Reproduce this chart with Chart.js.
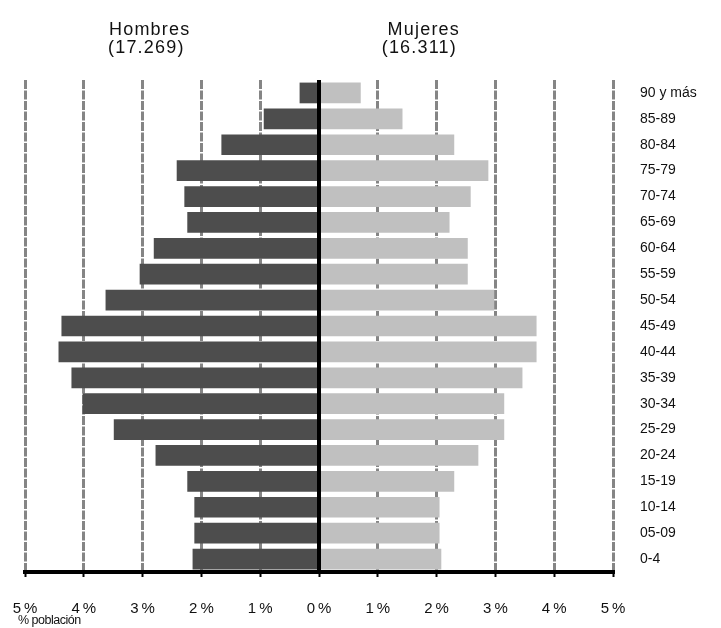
<!DOCTYPE html>
<html>
<head>
<meta charset="utf-8">
<script src="https://cdn.jsdelivr.net/npm/chart.js@4/dist/chart.umd.min.js"></script>
<style>
  html, body { margin: 0; padding: 0; background: #fff; }
  #wrap { width: 721px; height: 628px; }
</style>
</head>
<body>
<div id="wrap"><canvas id="chart" width="721" height="628"></canvas></div>
<script>
// grupos de edad, de arriba a abajo
const grupos = ['90 y más','85-89','80-84','75-79','70-74','65-69','60-64','55-59','50-54','45-49',
                '40-44','35-39','30-34','25-29','20-24','15-19','10-14','05-09','0-4'];
// % de población
const hombres = [0.33,0.94,1.66,2.42,2.29,2.24,2.81,3.05,3.63,4.38,4.43,4.21,4.02,3.49,2.78,2.24,2.12,2.12,2.15];
const mujeres = [0.71,1.42,2.30,2.88,2.58,2.22,2.53,2.53,2.98,3.70,3.70,3.46,3.15,3.15,2.71,2.30,2.05,2.05,2.08];
const ticksX = [-5,-4,-3,-2,-1,0,1,2,3,4,5];
const cabeceras = [['Hombres','(17.269)'],['Mujeres','(16.311)']];

const FONT = '"Liberation Sans", Arial, sans-serif';

// linea central y textos
const extras = {
  id: 'extras',
  afterDatasetsDraw(chart){
    const ctx = chart.ctx;
    const x = chart.scales.x;
    const area = chart.chartArea;
    const x0 = x.getPixelForValue(0);
    ctx.save();
    ctx.strokeStyle = '#000';
    ctx.lineWidth = 4;
    ctx.beginPath();
    ctx.moveTo(x0, area.top);
    ctx.lineTo(x0, area.bottom);
    ctx.stroke();
    ctx.restore();
  },
  afterDraw(chart){
    const ctx = chart.ctx;
    ctx.save();
    ctx.fillStyle = '#111';
    ctx.font = '18px ' + FONT;
    ctx.letterSpacing = '1.2px';
    ctx.textAlign = 'left';
    ctx.textBaseline = 'alphabetic';
    ctx.fillText(cabeceras[0][0], 109, 35);
    ctx.fillText(cabeceras[0][1], 108, 53);
    ctx.textAlign = 'right';
    ctx.fillText(cabeceras[1][0], 460, 35);
    ctx.fillText(cabeceras[1][1], 457, 53);
    ctx.font = '12.5px ' + FONT;
    ctx.letterSpacing = '-0.5px';
    ctx.textAlign = 'left';
    ctx.textBaseline = 'middle';
    ctx.fillText('% población', 18, 621);
    ctx.restore();
  }
};

const ctx = document.getElementById('chart').getContext('2d');
const chart = new Chart(ctx, {
  type: 'bar',
  data: {
    labels: grupos,
    datasets: [
      {
        label: 'Hombres',
        data: hombres.map(v => -v),
        backgroundColor: '#4d4d4d',
        barPercentage: 0.8,
        categoryPercentage: 1
      },
      {
        label: 'Mujeres',
        data: mujeres,
        backgroundColor: '#c0c0c0',
        barPercentage: 0.8,
        categoryPercentage: 1
      }
    ]
  },
  options: {
    indexAxis: 'y',
    responsive: false,
    animation: false,
    layout: { padding: { left: 25, top: 80, right: 0, bottom: 0 } },
    plugins: {
      legend: { display: false },
      tooltip: { enabled: false }
    },
    scales: {
      x: {
        stacked: true,
        min: -5,
        max: 5,
        afterBuildTicks: s => { s.ticks = ticksX.map(v => ({ value: v })); },
        afterFit: s => { s.height = 56; s.paddingLeft = 0; s.paddingRight = 0; },
        grid: {
          color: '#858585',
          lineWidth: 3,
          tickColor: '#000',
          tickLength: 5,
          tickWidth: 2
        },
        border: { display: true, color: '#000', width: 4, dash: [9, 1.5] },
        ticks: {
          color: '#111',
          font: { family: FONT, size: 15 },
          padding: 23,
          maxRotation: 0,
          callback: v => Math.abs(v) + '\u2009%'
        }
      },
      y: {
        stacked: true,
        position: 'right',
        afterFit: s => { s.width = 108; },
        grid: { display: false, drawTicks: false },
        border: { display: false },
        ticks: {
          color: '#111',
          font: { family: FONT, size: 14 },
          padding: 27
        }
      }
    }
  },
  plugins: [extras]
});
</script>
</body>
</html>
